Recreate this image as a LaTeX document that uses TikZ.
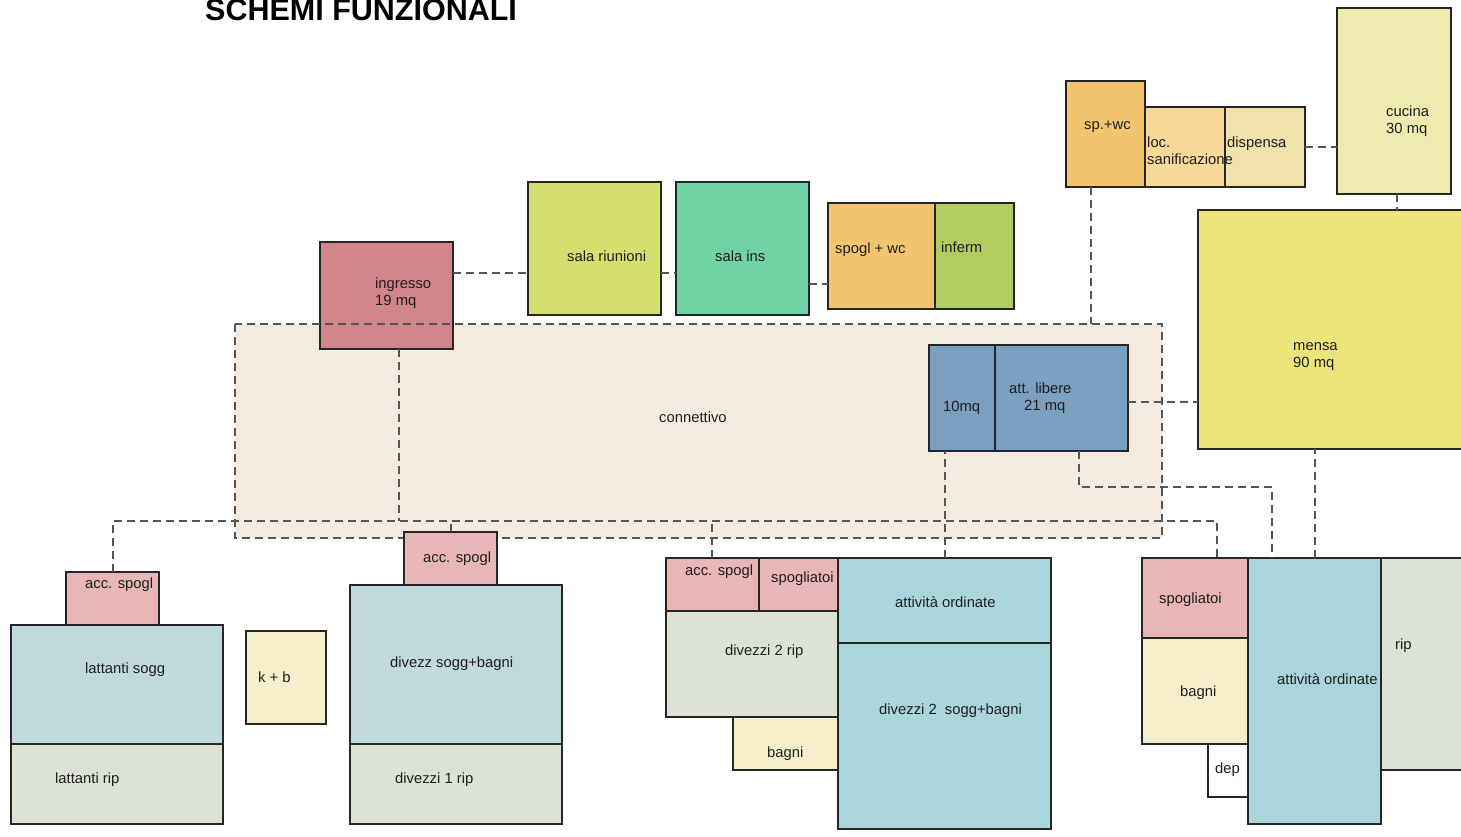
\documentclass[tikz,border=0pt]{standalone}
\usepackage{fontspec}
\setmainfont{Liberation Sans}
\usetikzlibrary{fit,calc}
\definecolor{cSpwc}{HTML}{F2C46E}
\definecolor{cLoc}{HTML}{F8D898}
\definecolor{cDisp}{HTML}{F0E2AA}
\definecolor{cCuc}{HTML}{EEEAB0}
\definecolor{cMensa}{HTML}{ECE67A}
\definecolor{cIngr}{HTML}{D1848A}
\definecolor{cRiun}{HTML}{D5DF6E}
\definecolor{cIns}{HTML}{6FD3A4}
\definecolor{cInferm}{HTML}{B3CC62}
\definecolor{cConn}{HTML}{F4EAE0}
\definecolor{cBlue}{HTML}{7BA0BF}
\definecolor{cPink}{HTML}{E8B6B6}
\definecolor{cSogg}{HTML}{C0D9DC}
\definecolor{cRip}{HTML}{DCE3D5}
\definecolor{cCream}{HTML}{F6EDCB}
\definecolor{cOrd}{HTML}{ABD5DC}
\definecolor{cLine}{HTML}{555555}
\newcommand\room[6]{\node[roombox, fill=#6, fit={(#2,#3) (#4,#5)}] (#1) {};}
\begin{document}
\begin{tikzpicture}[x=1pt,y=-1pt,
  roombox/.style={draw=black!85, line width=1.1pt, inner sep=0pt, outer sep=0pt},
  conn/.style={draw=cLine, line width=1.5pt, dash pattern=on 8pt off 5pt},
  lbl/.style={anchor=base west, inner sep=0pt, font=\fontsize{14.8}{17}\selectfont, text=black!88}]
\useasboundingbox (0,0) rectangle (1461,837);
\fill[white] (0,0) rectangle (1461,837);
\clip (0,0) rectangle (1461,837);

% title
\node[anchor=base west, inner sep=0pt, font=\bfseries\fontsize{30.5}{32}\selectfont] (title) at (205,21) {SCHEMI FUNZIONALI};

% connettivo
\node[fill=cConn, inner sep=0pt, outer sep=0pt, fit={(235,324) (1162,538)}] (connett) {};
\room{ingresso}{320}{242}{453}{349}{cIngr}
\draw[conn] (connett.north west) rectangle (connett.south east);

% connectors
\draw[conn] (ingresso.east |- 0,273) -- (528,273);
\coordinate (busI) at (399,521);
\coordinate (busR) at (1217,521);

% top rooms
\room{riunioni}{528}{182}{661}{315}{cRiun}
\room{salains}{676}{182}{809}{315}{cIns}
\room{spoglwc}{828}{203}{935}{309}{cSpwc}
\room{inferm}{935}{203}{1014}{309}{cInferm}
\room{spwc}{1066}{81}{1145}{187}{cSpwc}
\room{locsan}{1145}{107}{1225}{187}{cLoc}
\room{dispensa}{1225}{107}{1305}{187}{cDisp}
\room{cucina}{1337}{8}{1451}{194}{cCuc}
\room{mensa}{1198}{210}{1470}{449}{cMensa}
\room{dieci}{929}{345}{995}{451}{cBlue}
\room{attlib}{995}{345}{1128}{451}{cBlue}

% bottom rooms
\room{acc1}{66}{572}{159}{625}{cPink}
\room{latsogg}{11}{625}{223}{744}{cSogg}
\room{latrip}{11}{744}{223}{824}{cRip}
\room{kb}{246}{631}{326}{724}{cCream}
\room{acc2}{404}{532}{497}{585}{cPink}
\room{divsogg}{350}{585}{562}{744}{cSogg}
\room{div1rip}{350}{744}{562}{824}{cRip}
\room{acc3}{666}{558}{759}{611}{cPink}
\room{spogl2}{759}{558}{838}{611}{cPink}
\room{div2rip}{666}{611}{838}{717}{cRip}
\room{bagni2}{733}{717}{838}{770}{cCream}
\room{ord2}{838}{558}{1051}{643}{cOrd}
\room{div2sogg}{838}{643}{1051}{829}{cOrd}
\room{spoglR}{1142}{558}{1248}{638}{cPink}
\room{bagniR}{1142}{638}{1248}{744}{cCream}
\room{depR}{1208}{744}{1248}{797}{white}
\room{ordR}{1248}{558}{1381}{824}{cOrd}
\room{ripR}{1381}{558}{1470}{770}{cRip}

% connectors
\draw[conn] (riunioni.east |- 0,273) -- (salains.west |- 0,273);
\draw[conn] (salains.east |- 0,284) -- (spoglwc.west |- 0,284);
\draw[conn] (dispensa.east) -- (dispensa.east -| cucina.west);
\draw[conn] (cucina.south -| 1397,0) -- (mensa.north -| 1397,0);
\draw[conn] (spwc.south -| 1091,0) -- (connett.north -| 1091,0);
\draw[conn] (attlib.east |- 0,402) -- (mensa.west |- 0,402);
\draw[conn] (attlib.south -| 1079,0) |- (1272,487) -- (ordR.north -| 1272,0);
\draw[conn] (ordR.north -| 1315,0) -- (mensa.south -| 1315,0);
\draw[conn] (ord2.north -| 945,0) -- (dieci.south -| 945,0);
\draw[conn] (busI |- ingresso.south) -- (busI);
\draw[conn] (acc1.north -| 113,0) |- (busR) -- (busR |- spoglR.north);
\draw[conn] (acc2.north -| 451,0) -- (451,521);
\draw[conn] (acc3.north -| 712,0) -- (712,521);

% labels
\node[lbl] (tSpwc) at (1084,130) {sp.+wc};
\node[lbl] (tLoc1) at (1147,148) {loc.};
\node[lbl] (tLoc2) at (1147,165) {sanificazione};
\node[lbl] (tDisp) at (1227,148) {dispensa};
\node[lbl] (tCuc1) at (1386,117) {cucina};
\node[lbl] (tCuc2) at (1386,134) {30 mq};
\node[lbl] (tMen1) at (1293,350) {mensa};
\node[lbl] (tMen2) at (1293,367) {90 mq};
\node[lbl] (tIng1) at (375,288) {ingresso};
\node[lbl] (tIng2) at (375,305) {19 mq};
\node[lbl] (tRiun) at (567,261) {sala riunioni};
\node[lbl] (tIns) at (715,261) {sala ins};
\node[lbl] (tSpwc2) at (835,253) {spogl + wc};
\node[lbl] (tInf) at (941,252) {inferm};
\node[lbl] (tConn) at (659,422) {connettivo};
\node[lbl] (tDieci) at (943,411) {10mq};
\node[lbl] (tAtt1) at (1009,393) {att. libere};
\node[lbl] (tAtt2) at (1024,410) {21 mq};
\node[lbl] (tAcc1) at (85,588) {acc. spogl};
\node[lbl] (tLatS) at (85,673) {lattanti sogg};
\node[lbl] (tLatR) at (55,783) {lattanti rip};
\node[lbl] (tKb) at (258,682) {k + b};
\node[lbl] (tAcc2) at (423,562) {acc. spogl};
\node[lbl] (tDivS) at (390,667) {divezz sogg+bagni};
\node[lbl] (tDiv1) at (395,783) {divezzi 1 rip};
\node[lbl] (tAcc3) at (685,575) {acc. spogl};
\node[lbl] (tSpo2) at (771,582) {spogliatoi};
\node[lbl] (tOrd2) at (895,607) {attività ordinate};
\node[lbl] (tDiv2R) at (725,655) {divezzi 2 rip};
\node[lbl] (tDiv2S) at (879,714) {divezzi 2\ \ sogg+bagni};
\node[lbl] (tBag2) at (767,757) {bagni};
\node[lbl] (tSpoR) at (1159,603) {spogliatoi};
\node[lbl] (tRip) at (1395,649) {rip};
\node[lbl] (tBagR) at (1180,696) {bagni};
\node[lbl] (tOrdR) at (1277,684) {attività ordinate};
\node[lbl] (tDep) at (1215,773) {dep};
\end{tikzpicture}
\end{document}
